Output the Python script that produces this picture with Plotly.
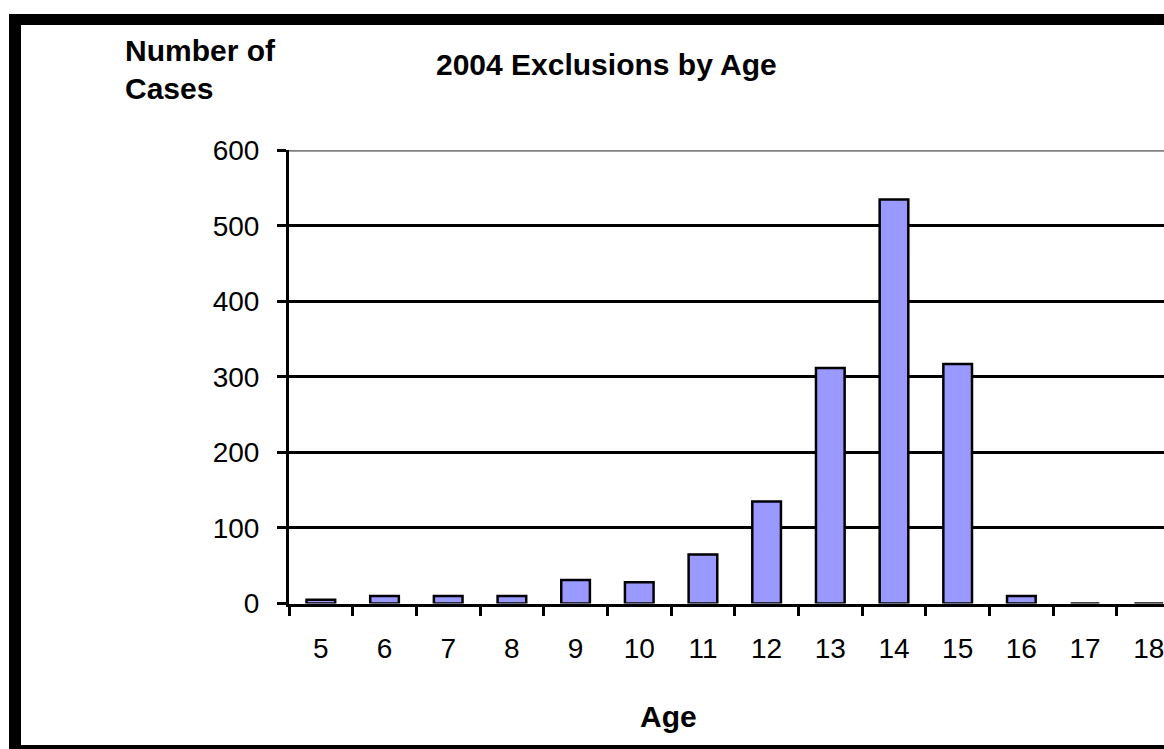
import plotly.graph_objects as go

# Exclusions in 2004, counted by pupil age
ages = ["5", "6", "7", "8", "9", "10", "11", "12", "13", "14", "15", "16", "17", "18"]
cases = [5, 10, 10, 10, 31, 28, 65, 135, 312, 535, 317, 10, 0, 0]
y_ticks = [0, 100, 200, 300, 400, 500, 600]

W, H = 1164, 749


def px_x(p):
    return p / W


def px_y(p):
    return 1 - p / H


bar_fill = "#9999FF"
tick_font = dict(family="Liberation Sans, Arial, sans-serif", size=28, color="black")
bold_font = dict(family="Liberation Sans, Arial, sans-serif", size=30, color="black")

fig = go.Figure(
    go.Bar(
        x=ages,
        y=cases,
        marker=dict(color=bar_fill, line=dict(color="black", width=2.5)),
        hoverinfo="x+y",
    )
)

fig.update_layout(
    width=W,
    height=H,
    margin=dict(l=0, r=0, t=0, b=0, autoexpand=False),
    paper_bgcolor="white",
    plot_bgcolor="white",
    showlegend=False,
    bargap=0.55,
    xaxis=dict(
        type="category",
        automargin=False,
        domain=[px_x(289), 1],
        range=[-0.5, 13.24],
        tickson="boundaries",
        ticks="outside",
        ticklen=9,
        tickwidth=2.5,
        tickcolor="black",
        showline=True,
        linecolor="black",
        linewidth=3,
        showgrid=False,
        tickfont=tick_font,
        ticklabelstandoff=18,
    ),
    yaxis=dict(
        automargin=False,
        domain=[px_y(603.5), px_y(150)],
        range=[0, 600.5],
        tickvals=y_ticks,
        ticks="outside",
        ticklen=9,
        tickwidth=2.5,
        tickcolor="black",
        showline=True,
        linecolor="black",
        linewidth=3,
        showgrid=True,
        gridcolor="black",
        gridwidth=2.5,
        zeroline=False,
        tickfont=tick_font,
        ticklabelstandoff=12,
    ),
)

# Thick black frame on the left, top and bottom edges
frame = [
    (9, 14, 21, 749),
    (9, 14, W, 25),
    (9, 745, W, 749),
]
for x0, y0, x1, y1 in frame:
    fig.add_shape(
        type="rect", xref="paper", yref="paper",
        x0=px_x(x0), x1=px_x(x1), y0=px_y(y1), y1=px_y(y0),
        fillcolor="black", line=dict(width=0), layer="above",
    )

# Top gridline drawn in grey
fig.add_shape(
    type="line", xref="paper", yref="y",
    x0=px_x(289), x1=1, y0=600, y1=600,
    line=dict(color="#808080", width=2.5), layer="above",
)

fig.add_annotation(
    text="<b>2004 Exclusions by Age</b>", xref="paper", yref="paper",
    x=px_x(606), y=px_y(64), xanchor="center", yanchor="middle",
    showarrow=False, font=bold_font,
)
fig.add_annotation(
    text="<b>Number of</b>", xref="paper", yref="paper",
    x=px_x(123), y=px_y(50), xanchor="left", yanchor="middle",
    showarrow=False, font=bold_font,
)
fig.add_annotation(
    text="<b>Cases</b>", xref="paper", yref="paper",
    x=px_x(123), y=px_y(89), xanchor="left", yanchor="middle",
    showarrow=False, font=bold_font,
)
fig.add_annotation(
    text="<b>Age</b>", xref="paper", yref="paper",
    x=px_x(668), y=px_y(716), xanchor="center", yanchor="middle",
    showarrow=False, font=bold_font,
)

fig.write_html("out.html")
